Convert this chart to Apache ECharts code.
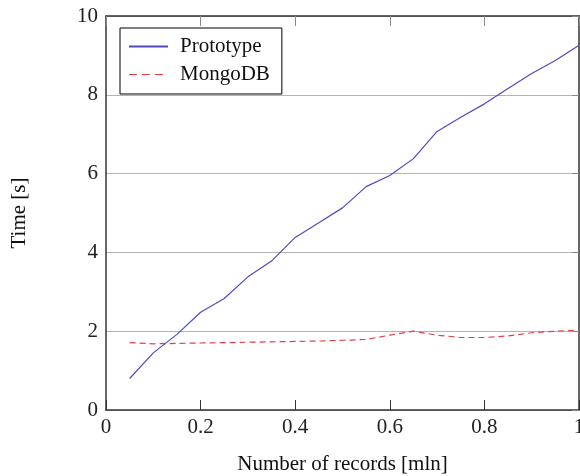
<!DOCTYPE html>
<html>
<head>
<meta charset="utf-8">
<script src="https://cdn.jsdelivr.net/npm/echarts@6/dist/echarts.min.js"></script>
<style>html,body{margin:0;padding:0;background:#fff;}#c{width:580px;height:476px;}</style>
</head>
<body>
<div id="c"></div>
<script>
const records = [0.05,0.1,0.15,0.2,0.25,0.3,0.35,0.4,0.45,0.5,0.55,0.6,0.65,0.7,0.75,0.8,0.85,0.9,0.95,1.0];
const prototype = [0.8,1.45,1.92,2.48,2.83,3.38,3.78,4.38,4.75,5.13,5.67,5.95,6.38,7.07,7.43,7.77,8.16,8.54,8.87,9.26];
const mongodb = [1.71,1.68,1.69,1.70,1.71,1.72,1.73,1.74,1.75,1.77,1.79,1.90,2.00,1.90,1.84,1.84,1.88,1.96,2.00,2.03];
const xTicks = [0,0.2,0.4,0.6,0.8,1];
const yTicks = [0,2,4,6,8,10];
const seriesNames = ['Prototype','MongoDB'];

const font = 'Liberation Serif';
const axisCol = '#333';
const chart = echarts.init(document.getElementById('c'), null, {renderer:'canvas'});
const pair = (xs, ys) => xs.map((x,i)=>[x, ys[i]]);
chart.setOption({
  animation:false,
  backgroundColor:'#fff',
  textStyle:{fontFamily:font},
  grid:{left:106, top:16, right:1, bottom:66, containLabel:false, outerBoundsMode:'none'},
  legend:{
    orient:'vertical', left:120, top:28,
    padding:[8,12,9,8], itemGap:7, itemWidth:39, itemHeight:14, itemTextGap:10,
    borderColor:'#000', borderWidth:1, backgroundColor:'#fff',
    itemStyle:{opacity:0},
    textStyle:{fontFamily:font, fontSize:21, color:'#111', padding:[0,0,0,7]},
    data:[{name:seriesNames[0]}, {name:seriesNames[1], lineStyle:{type:[8,5], width:1.2}}]
  },
  xAxis:[{
    type:'value', min:xTicks[0], max:xTicks[xTicks.length-1], interval:0.2,
    name:'Number of records [mln]', nameLocation:'middle', nameGap:44,
    nameTextStyle:{fontFamily:font, fontSize:21, color:'#111'},
    axisLine:{show:true, onZero:false, lineStyle:{color:axisCol, width:1.5}},
    axisTick:{show:true, inside:true, length:10, lineStyle:{color:axisCol}},
    axisLabel:{fontFamily:font, fontSize:21, color:'#222', margin:7, formatter:v=>String(+v.toFixed(1))},
    splitLine:{show:false}
  },{
    type:'value', position:'top', min:0, max:1, interval:0.2,
    axisLine:{show:true, onZero:false, lineStyle:{color:axisCol, width:1.5}},
    axisTick:{show:true, inside:true, length:10, lineStyle:{color:'#888'}},
    axisLabel:{show:false}, splitLine:{show:false}
  }],
  yAxis:[{
    type:'value', min:yTicks[0], max:yTicks[yTicks.length-1], interval:2,
    name:'Time [s]', nameLocation:'middle', nameGap:76,
    nameTextStyle:{fontFamily:font, fontSize:21, color:'#111'},
    axisLine:{show:true, onZero:false, lineStyle:{color:axisCol, width:1.5}},
    axisTick:{show:false},
    axisLabel:{fontFamily:font, fontSize:21, color:'#222', margin:8},
    splitLine:{show:true, lineStyle:{color:'#b4b4b4', width:1}}
  },{
    type:'value', position:'right', min:0, max:10, interval:2,
    axisLine:{show:true, onZero:false, lineStyle:{color:axisCol, width:1.5}},
    axisTick:{show:true, inside:true, length:7, lineStyle:{color:'#888'}},
    axisLabel:{show:false}, splitLine:{show:false}
  }],
  series:[{
    name:seriesNames[0], type:'line', data:pair(records, prototype), symbol:'none',
    lineStyle:{color:'#4c4cc0', width:1.2}, itemStyle:{color:'#4c4cc0'}
  },{
    name:seriesNames[1], type:'line', data:pair(records, mongodb), symbol:'none',
    lineStyle:{color:'#e0404a', width:1.2, type:[6,4]}, itemStyle:{color:'#e0404a'}
  }]
});
</script>
</body>
</html>
